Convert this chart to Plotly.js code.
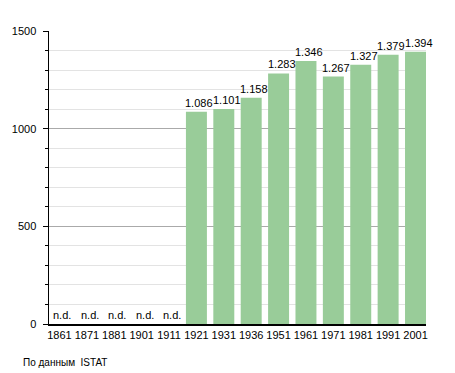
<!DOCTYPE html>
<html><head><meta charset="utf-8">
<script src="https://cdn.plot.ly/plotly-3.0.1.min.js"></script>
<style>body{margin:0;background:#fff}#c{width:455px;height:373px}</style>
</head><body><div id="c"></div>
<script>
var years = ['1861','1871','1881','1901','1911','1921','1931','1936','1951','1961','1971','1981','1991','2001'];
var population = [null,null,null,null,null,1086,1101,1158,1283,1346,1267,1327,1379,1394];
var ndYears = ['1861','1871','1881','1901','1911'];
var ndLabel = 'n.d.';
var source = 'По данным  ISTAT';

function fmt(v){ var s=String(v); return s.length>3 ? s.slice(0,s.length-3)+'.'+s.slice(-3) : s; }

var font = {family:'Liberation Sans, Arial, sans-serif', size:11, color:'#000'};
var gap = 0.234;
var half = (1-gap)/2;
var traces = [
  {type:'bar', x:years, y:population, marker:{color:'#99CC99'}, hoverinfo:'skip'}
];
var ann = [];
years.forEach(function(yr, i){
  if (population[i] !== null) {
    ann.push({x:i, y:population[i], xref:'x', yref:'y', text:fmt(population[i]), showarrow:false,
              xanchor:'center', yanchor:'bottom', xshift:3, yshift:1, font:font});
  }
});
ndYears.forEach(function(yr){
  ann.push({x:years.indexOf(yr), y:0, xref:'x', yref:'y', text:ndLabel, showarrow:false,
            xanchor:'center', yanchor:'bottom', xshift:3, yshift:1, font:font});
});
ann.push({xref:'paper', yref:'paper', x:-0.075, y:-0.105, xanchor:'left', yanchor:'top', showarrow:false,
          text:source, font:{family:'Liberation Sans, Arial, sans-serif', size:10, color:'#000'}});

var layout = {
  width:455, height:373, margin:{l:49,r:29,t:31,b:49},
  paper_bgcolor:'#fff', plot_bgcolor:'#fff', showlegend:false, bargap:gap, font:font,
  xaxis:{type:'category', categoryorder:'array', categoryarray:years, range:[-half, years.length-1+half],
         showline:true, linecolor:'#000', linewidth:1.5,
         ticks:'', tickfont:font, showgrid:false, zeroline:false, fixedrange:true},
  yaxis:{range:[0,1500], dtick:500, showline:true, linecolor:'#000', linewidth:1.5, ticks:'outside', ticklen:5, tickcolor:'#000',
         showgrid:true, gridcolor:'#aaaaaa', gridwidth:1, zeroline:false, tickfont:font, ticklabelstandoff:4,
         minor:{dtick:100, showgrid:true, gridcolor:'#e3e3e3', ticks:'outside', ticklen:3, tickcolor:'#000'}},
  annotations:ann
};
Plotly.newPlot('c', traces, layout, {staticPlot:true});
</script></body></html>
